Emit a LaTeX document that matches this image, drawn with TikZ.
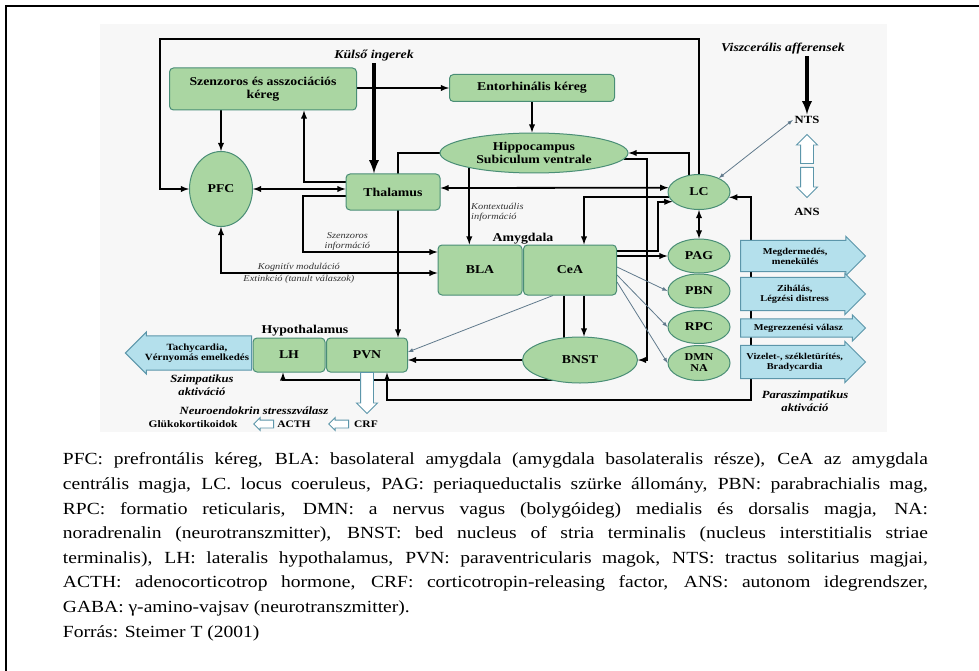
\documentclass[tikz,border=0pt]{standalone}
\usepackage{fontspec}
\setmainfont{Liberation Serif}[FakeStretch=1.15]
\usetikzlibrary{shapes.geometric, shapes.arrows, backgrounds}

\definecolor{zoldkitoltes}{RGB}{170,214,162}
\definecolor{zoldkeret}{RGB}{74,142,118}
\definecolor{kekkitoltes}{RGB}{180,224,236}
\definecolor{kekkeret}{RGB}{92,150,170}
\definecolor{vekonyszin}{RGB}{96,122,140}

\begin{document}
\begin{tikzpicture}[x=1pt, y=-1pt, line width=1.8pt]
  \tikzstyle{doboz}=[rectangle, rounded corners=4pt, draw=zoldkeret, fill=zoldkitoltes, line width=1pt, font=\fontsize{12}{13}\selectfont\bfseries, align=center, inner sep=2pt];
  \tikzstyle{ovalis}=[ellipse, draw=zoldkeret, fill=zoldkitoltes, line width=1pt, font=\fontsize{12}{13}\selectfont\bfseries, align=center, inner sep=0];
  \tikzstyle{nyil}=[-latex, line width=1.8pt];
  \tikzstyle{kettos}=[latex-latex, line width=1.8pt];
  \tikzstyle{vastagnyil}=[-latex, line width=3.5pt];
  \tikzstyle{vekonynyil}=[-latex, line width=.8pt, draw=vekonyszin];
  \tikzstyle{kimenet}=[single arrow, draw=kekkeret, fill=kekkitoltes, line width=1pt, single arrow head extend=4pt, font=\fontsize{9}{10}\selectfont\bfseries, align=center, inner ysep=7pt, inner xsep=2pt, anchor=tail];
  \tikzstyle{ures}=[single arrow, draw=kekkeret, fill=white, line width=.9pt, inner sep=6pt, single arrow head extend=4pt, anchor=tail];
  \tikzstyle{fejlec}=[font=\fontsize{12}{13}\selectfont\bfseries\itshape, align=center, inner sep=1pt];
  \tikzstyle{csoport}=[font=\fontsize{12}{13}\selectfont\bfseries, inner sep=1pt];
  \tikzstyle{cimke}=[font=\fontsize{9}{10}\selectfont\itshape, text=black!80, align=center, inner sep=1pt];

  \useasboundingbox (0,0) rectangle (979,671);
  \draw[line width=2pt] (6,671) -- (6,6) -- (979,6);

  \node[doboz, minimum width=187pt, minimum height=42pt] (szenz) at (263,89) {Szenzoros és asszociációs\\kéreg};
  \node[doboz, minimum width=165pt, minimum height=27pt] (ento) at (532,88) {Entorhinális kéreg};
  \node[ovalis, minimum width=188pt, minimum height=40pt] (hippo) at (534,153) {Hippocampus\\Subiculum ventrale};
  \node[ovalis, minimum width=63pt, minimum height=75pt] (pfc) at (221,189) {PFC};
  \node[doboz, minimum width=94pt, minimum height=36pt] (thal) at (393,192) {Thalamus};
  \node[ovalis, minimum width=62pt, minimum height=35pt] (lc) at (699,192) {LC};
  \node[doboz, minimum width=84pt, minimum height=50pt] (bla) at (480,270) {BLA};
  \node[doboz, minimum width=93pt, minimum height=50pt] (cea) at (570,270) {CeA};
  \node[ovalis, minimum width=62pt, minimum height=34pt] (pag) at (699,256) {PAG};
  \node[ovalis, minimum width=62pt, minimum height=34pt] (pbn) at (699,291) {PBN};
  \node[ovalis, minimum width=62pt, minimum height=33pt] (rpc) at (699,327) {RPC};
  \node[ovalis, minimum width=62pt, minimum height=35pt, font=\fontsize{10.5}{11}\selectfont\bfseries] (dmn) at (699,363) {DMN\\NA};
  \node[ovalis, minimum width=115pt, minimum height=46pt] (bnst) at (580,360) {BNST};
  \node[doboz, minimum width=72pt, minimum height=34pt] (lh) at (289,355) {LH};
  \node[doboz, minimum width=81pt, minimum height=34pt] (pvn) at (367,355) {PVN};

  \node[fejlec] (kulso) at (374,56) {Külső ingerek};
  \node[fejlec] (viszc) at (783,49) {Viszcerális afferensek};
  \node[csoport, font=\fontsize{11}{12}\selectfont\bfseries] (nts) at (807,120) {NTS};
  \node[csoport, font=\fontsize{11}{12}\selectfont\bfseries] (ans) at (807,212) {ANS};
  \node[csoport] (amyg) at (523,239) {Amygdala};
  \node[csoport] (hypo) at (305,331) {Hypothalamus};
  \node[ures, shape border rotate=90, minimum height=29pt] (fel) at (807,164) {};
  \node[ures, shape border rotate=270, minimum height=30pt] (le) at (807,167) {};

  \node[kimenet, minimum height=125pt] (ki1) at (740,256) {Megdermedés,\\menekülés};
  \node[kimenet, minimum height=125pt] (ki2) at (740,294) {Zihálás,\\Légzési distress};
  \node[kimenet, minimum height=125pt, inner ysep=4.5pt] (ki3) at (740,328) {Megrezzenési válasz};
  \node[kimenet, minimum height=125pt] (ki4) at (740,362) {Vizelet-, székletürítés,\\Bradycardia};
  \node[kimenet, shape border rotate=180, minimum height=122pt, font=\fontsize{9.5}{10.5}\selectfont\bfseries] (tachy) at (252,353) {Tachycardia,\\Vérnyomás emelkedés};
  \node[fejlec, font=\fontsize{11}{13}\selectfont\bfseries\itshape] (szimp) at (202,385) {Szimpatikus\\aktiváció};
  \node[fejlec, font=\fontsize{11}{13}\selectfont\bfseries\itshape] (paraszimp) at (805,401) {Paraszimpatikus\\aktiváció};

  \node[ures, shape border rotate=270, minimum height=41pt] (stresszny) at (367,372) {};
  \node[fejlec, font=\fontsize{11}{12}\selectfont\bfseries\itshape] (neuro) at (254,411) {Neuroendokrin stresszválasz};
  \node[csoport, font=\fontsize{10}{11}\selectfont\bfseries] (gluko) at (193,424) {Glükokortikoidok};
  \node[ures, shape border rotate=180, minimum height=20pt, inner sep=3.5pt, single arrow head extend=2.5pt, anchor=tip] (ny1) at (253,424) {};
  \node[csoport, font=\fontsize{10}{11}\selectfont\bfseries] (acth) at (294,424) {ACTH};
  \node[ures, shape border rotate=180, minimum height=20pt, inner sep=3.5pt, single arrow head extend=2.5pt, anchor=tip] (ny2) at (328,424) {};
  \node[csoport, font=\fontsize{10}{11}\selectfont\bfseries] (crf) at (366,424) {CRF};

  \begin{scope}[on background layer, line width=1.8pt]
    \fill[black!3] (100,24) rectangle (887,432);
    \draw[nyil] (lc.north) |- (160,39) |- (pfc.west);
    \draw[vastagnyil] (kulso.south) -- (kulso.south |- thal.north);
    \draw[vastagnyil] (viszc.south -| nts.north) -- (nts.north);
    \draw[nyil] (szenz.south -| pfc.north) -- (pfc.north);
    \draw[nyil] (szenz.east |- ento.west) -- (ento.west);
    \draw[nyil] (ento.south) -- (ento.south |- hippo.north);
    \draw[kettos] (pfc.east) -- (pfc.east -| thal.west);
    \draw[nyil] ([yshift=10pt]thal.west) -| (szenz.south-|304,0);
    \draw[nyil] ([yshift=-4pt]thal.west) -| (303,252) -- node[cimke, above, pos=.33] (szinfo) {Szenzoros\\információ} ([yshift=18pt]bla.west);
    \draw[kettos] (pfc.south) |- node[cimke, above, pos=.68] (kogn) {Kognitív moduláció} node[cimke, below, pos=.68] (extink) {Extinkció (tanult válaszok)} ([yshift=-3pt]bla.west);
    \draw[nyil] (hippo.193) -- node[cimke, right, pos=.58, align=left] (kontext) {Kontextuális\\információ} (hippo.193 |- bla.north);
    \draw[nyil] (hippo.west) -| (pvn.north-|398,0);
    \draw[nyil] (lc.120) |- (hippo.east);
    \draw[nyil] (hippo.-4) -| (bnst.east-|647,0) -- (bnst.east);
    \draw[kettos] ([yshift=4pt]thal.east) -- (lc.172);
    \draw[nyil] (lc.190) -| (cea.north-|584,0);
    \draw[nyil] ([yshift=19pt]cea.east) -| (658,202) -- (lc.200);
    \draw[nyil] (cea.east |- pag.west) -- (pag.west);
    \draw[kettos] (lc.south) -- (pag.north);
    \draw[vekonynyil] ([yshift=3pt]cea.east) -- (pbn.west);
    \draw[vekonynyil] ([yshift=-5pt]cea.east) -- (rpc.west);
    \draw[vekonynyil] ([yshift=-12pt]cea.east) -- (dmn.west);
    \draw[vekonynyil] (cea.south-|553,0) -- ([yshift=3pt]pvn.east);
    \draw[nyil] (cea.south-|584,0) -- (bnst.north-|584,0);
    \draw[nyil] (cea.south-|564,0) -- (564,380) -| (lh.south-|283,0);
    \draw[nyil] (bnst.west) -- (bnst.west -| pvn.east);
    \draw[kettos] (lc.-10) -| (751,400) -| (pvn.south-|387,0);
    \draw[vekonynyil, latex-latex] (nts.west) -- (lc.35);
  \end{scope}

  \node[anchor=north west, inner sep=0, align=left, font=\fontsize{17}{24.6}\selectfont] (magyarazat) at (62,452) {%
    \makebox[865pt][s]{PFC: prefrontális kéreg, BLA: basolateral amygdala (amygdala basolateralis része), CeA az amygdala}\\
    \makebox[865pt][s]{centrális magja, LC. locus coeruleus, PAG: periaqueductalis szürke állomány, PBN: parabrachialis mag,}\\
    \makebox[865pt][s]{RPC: formatio reticularis, DMN: a nervus vagus (bolygóideg) medialis és dorsalis magja, NA:}\\
    \makebox[865pt][s]{noradrenalin (neurotranszmitter), BNST: bed nucleus of stria terminalis (nucleus interstitialis striae}\\
    \makebox[865pt][s]{terminalis), LH: lateralis hypothalamus, PVN: paraventricularis magok, NTS: tractus solitarius magjai,}\\
    \makebox[865pt][s]{ACTH: adenocorticotrop hormone, CRF: corticotropin-releasing factor, ANS: autonom idegrendszer,}\\
    GABA: γ-amino-vajsav (neurotranszmitter).\\
    Forrás: Steimer T (2001)};
\end{tikzpicture}
\end{document}
